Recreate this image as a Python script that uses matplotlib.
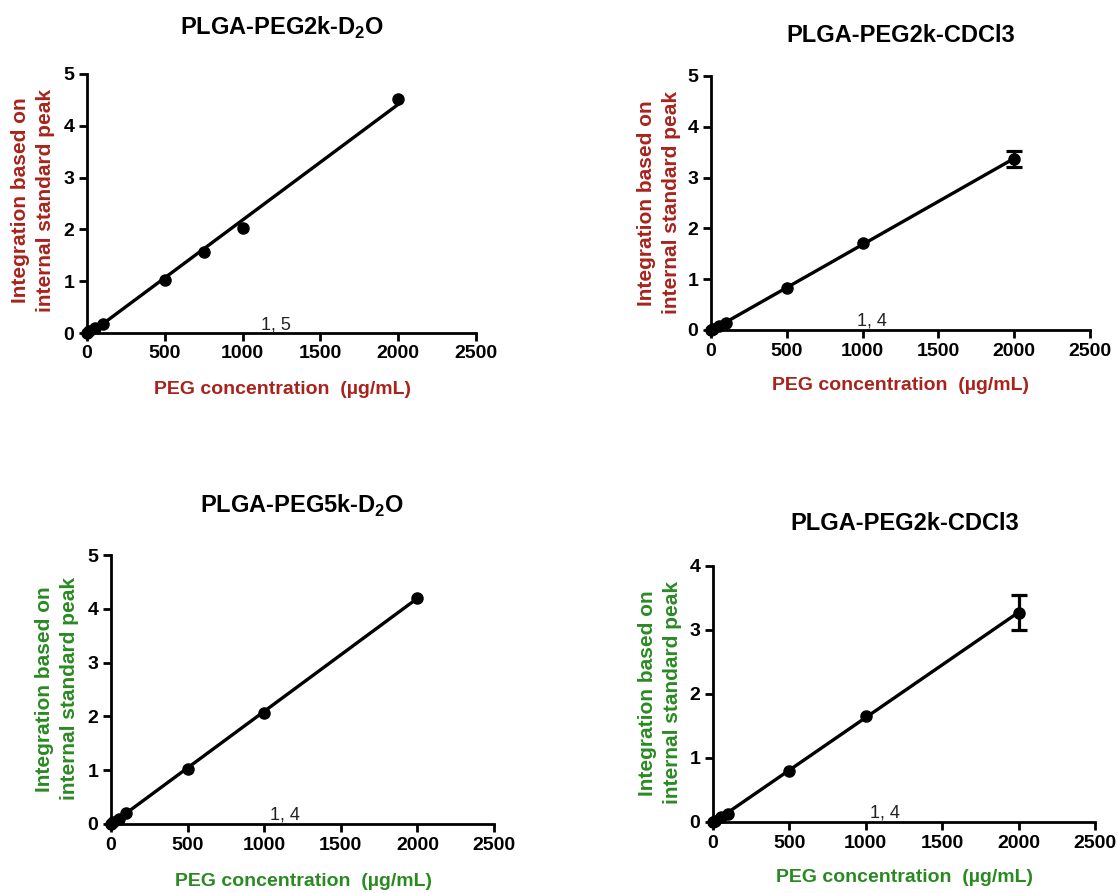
import numpy as np
import matplotlib
matplotlib.use("Agg")
import matplotlib.pyplot as plt

plt.rcParams['font.family'] = ['Liberation Sans', 'DejaVu Sans']
plt.rcParams['mathtext.fontset'] = 'custom'
plt.rcParams['mathtext.rm'] = 'Liberation Sans'
plt.rcParams['mathtext.bf'] = 'Liberation Sans:bold'

# PEG concentration (ug/mL)
conc = [0, 10, 50, 100, 500, 750, 1000, 2000]
conc_b = [0, 10, 50, 100, 500, 1000, 2000]

# integration values
peg2k_d2o = [0, 0.03, 0.10, 0.17, 1.02, 1.57, 2.03, 4.52]
peg2k_cdcl3_a = [0, 0.02, 0.07, 0.13, 0.82, 1.71, 3.37]
peg2k_cdcl3_a_err = [0, 0, 0, 0, 0, 0, 0.16]
peg5k_d2o = [0, 0.03, 0.10, 0.20, 1.03, 2.07, 4.21]
peg2k_cdcl3_b = [0, 0.02, 0.08, 0.12, 0.79, 1.66, 3.27]
peg2k_cdcl3_b_err = [0, 0, 0, 0, 0, 0, 0.27]

titles = ["PLGA-PEG2k-D$_\\mathbf{2}$O", "PLGA-PEG2k-CDCl3",
          "PLGA-PEG5k-D$_\\mathbf{2}$O", "PLGA-PEG2k-CDCl3"]
notes = ["1, 5", "1, 4", "1, 4", "1, 4"]
note_x = [1120, 960, 1040, 1030]

red = '#a8231c'
green = '#2a8a22'

fig = plt.figure(figsize=(11.17, 8.93), dpi=100)
W, H = 1117, 893

def px_axes(l, r, t, b):
    return fig.add_axes([l / W, 1 - b / H, (r - l) / W, (b - t) / H])

panels = [
    dict(box=(87, 476, 74, 333), x=conc, y=peg2k_d2o, err=None, ymax=5, col=red,
         title=(282, 28), xl=(282, 389), yl=(33, 200)),
    dict(box=(711, 1090, 76, 330), x=conc_b, y=peg2k_cdcl3_a, err=peg2k_cdcl3_a_err, ymax=5, col=red,
         title=(901, 35), xl=(901, 385), yl=(659, 203)),
    dict(box=(111, 494, 555, 824), x=conc_b, y=peg5k_d2o, err=None, ymax=5, col=green,
         title=(302, 506), xl=(304, 882), yl=(57, 689)),
    dict(box=(713, 1095, 566, 822), x=conc_b, y=peg2k_cdcl3_b, err=peg2k_cdcl3_b_err, ymax=4, col=green,
         title=(905, 524), xl=(905, 877), yl=(660, 693)),
]

for i, p in enumerate(panels):
    ax = px_axes(*p['box'])
    x = np.array(p['x'])
    y = np.array(p['y'])
    # linear fit line across the data range
    k, c = np.polyfit(x, y, 1)
    xf = np.array([0, x.max()])
    ax.plot(xf, k * xf + c, color='black', lw=2.4, clip_on=False, zorder=2)
    ax.plot(x, y, 'o', color='black', ms=8, clip_on=False, zorder=3)
    if p['err'] is not None:
        e = np.array(p['err'])
        m = e > 0
        ax.errorbar(x[m], y[m], yerr=e[m], fmt='none', ecolor='black',
                    elinewidth=2.3, capsize=6, capthick=2.3, clip_on=False, zorder=3)

    ax.set_xlim(0, 2500)
    ax.set_ylim(0, p['ymax'])
    ax.set_xticks([0, 500, 1000, 1500, 2000, 2500])
    ax.set_yticks(range(0, p['ymax'] + 1))
    for s in ['top', 'right']:
        ax.spines[s].set_visible(False)
    for s in ['left', 'bottom']:
        ax.spines[s].set_linewidth(2)
    ax.tick_params(width=2, length=6, labelsize=14, pad=3)
    for lab in ax.get_xticklabels() + ax.get_yticklabels():
        lab.set_fontweight('bold')

    ax.text(note_x[i], 0.0, notes[i], fontsize=13, color='#222222',
            ha='left', va='bottom')

    fig.text(p['title'][0] / W, 1 - p['title'][1] / H, titles[i], fontsize=17,
             fontweight='bold', ha='center', va='center')
    fig.text(p['xl'][0] / W, 1 - p['xl'][1] / H, "PEG concentration  (\u00b5g/mL)",
             fontsize=14, fontweight='bold', color=p['col'], ha='center', va='center')
    fig.text(p['yl'][0] / W, 1 - p['yl'][1] / H,
             "Integration based on\ninternal standard peak",
             fontsize=15, fontweight='bold', color=p['col'], ha='center', va='center',
             rotation=90, linespacing=1.4)

fig.savefig("out.png", dpi=100)
